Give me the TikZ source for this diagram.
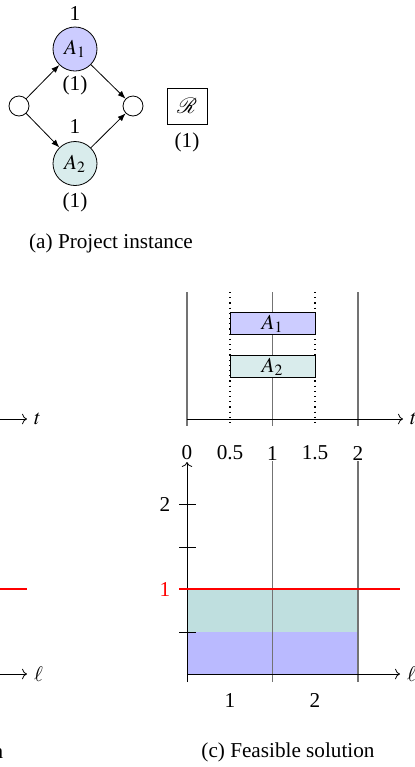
\documentclass[tikz,border=0pt]{standalone}
\usepackage{mathptmx}
\usepackage{mathrsfs}
\usepackage{fontspec}
\setmainfont{Liberation Serif}
\usetikzlibrary{arrows.meta}
\begin{document}
\begin{tikzpicture}[x=0.5pt,y=-0.5pt,
  font=\fontsize{10.6pt}{12.7pt}\selectfont,
  act/.style={circle,draw,minimum size=22pt,inner sep=0pt},
  dummy/.style={circle,draw,minimum size=10pt,inner sep=0pt},
  edge/.style={-{Latex[length=4pt,width=3pt]}},
  vline/.style={black!55,line width=0.7pt},
  tick/.style={line width=0.5pt},
  txt/.style={inner sep=0pt}]
\useasboundingbox (0,0) rectangle (414,767);
\clip (0,0) rectangle (414,767);
% (a) project instance
\node[act,fill=blue!20] (a1) at (75,49) {$A_1$};
\node[act,fill=teal!15] (a2) at (75,163.5) {$A_2$};
\node[dummy] (s) at (19,106) {};
\node[dummy] (e) at (133,106) {};
\node[txt] (a1d) at (75,13) {1};
\node[txt] (a1r) at (75,85) {(1)};
\node[txt] (a2d) at (75,126) {1};
\node[txt] (a2r) at (75,202) {(1)};
\draw[edge] (s) -- (a1);
\draw[edge] (s) -- (a2);
\draw[edge] (a1) -- (e);
\draw[edge] (a2) -- (e);
\node[draw,minimum width=20pt,minimum height=18pt,inner sep=0pt] (res) at (187,106) {$\mathscr{R}$};
\node[txt] (resc) at (187,142) {(1)};
\node[txt] (capa) at (111,243) {(a) Project instance};
% (b) cut-off remains
\coordinate (bt0) at (0,419); \coordinate (bt1) at (27,419);
\draw[->] (bt0) -- (bt1) node[right] {$t$};
\coordinate (br0) at (0,589); \coordinate (br1) at (27,589);
\draw[red,line width=0.6pt] (br0) -- (br1);
\coordinate (bl0) at (0,674); \coordinate (bl1) at (27,674);
\draw[->] (bl0) -- (bl1) node[right] {$\ell$};
\node[txt,anchor=east] (capb) at (3.5,753) {n};
% (c) Gantt
\foreach \x in {187,272.5,358}{
  \draw[vline] (\x,292) -- (\x,426);
}
\foreach \x in {230,315}{
  \draw[dotted,line width=0.6pt] (\x,292) -- (\x,426);
}
\draw[fill=blue!20] (230,312) rectangle (315,334);
\node[txt] (g1) at (272.5,324) {$A_1$};
\draw[fill=teal!15] (230,355) rectangle (315,377);
\node[txt] (g2) at (272.5,367) {$A_2$};
\coordinate (ta) at (187,419); \coordinate (tb) at (403,419);
\draw[->] (ta) -- (tb) node[right] {$t$};
\node[txt] (l0) at (187,453) {0};
\node[txt] (l05) at (230,453) {0.5};
\node[txt] (l1) at (272.5,453) {1};
\node[txt] (l15) at (315,453) {1.5};
\node[txt] (l2) at (358,453) {2};
% (c) resource profile
\fill[teal!25] (187,632) rectangle (358,589);
\fill[blue!27] (187,674) rectangle (358,632);
\draw[vline] (272.5,461) -- (272.5,682);
\draw[vline] (358,461) -- (358,682);
\coordinate (ya) at (187,682); \coordinate (yb) at (187,462);
\draw[->] (ya) -- (yb);
\coordinate (xa) at (187,674); \coordinate (xb) at (400,674);
\draw[->] (xa) -- (xb) node[right] {$\ell$};
\foreach \y in {504,547,632}{
  \draw[tick] (179,\y) -- (196,\y);
}
\draw[red,line width=0.6pt] (179,589) -- (400,589);
\node[txt] (y2) at (165,504) {2};
\node[txt,red] (y1) at (165,589) {1};
\node[txt] (x1) at (230,700) {1};
\node[txt] (x2) at (315,700) {2};
\node[txt] (capc) at (288,752) {(c) Feasible solution};
\end{tikzpicture}
\end{document}
